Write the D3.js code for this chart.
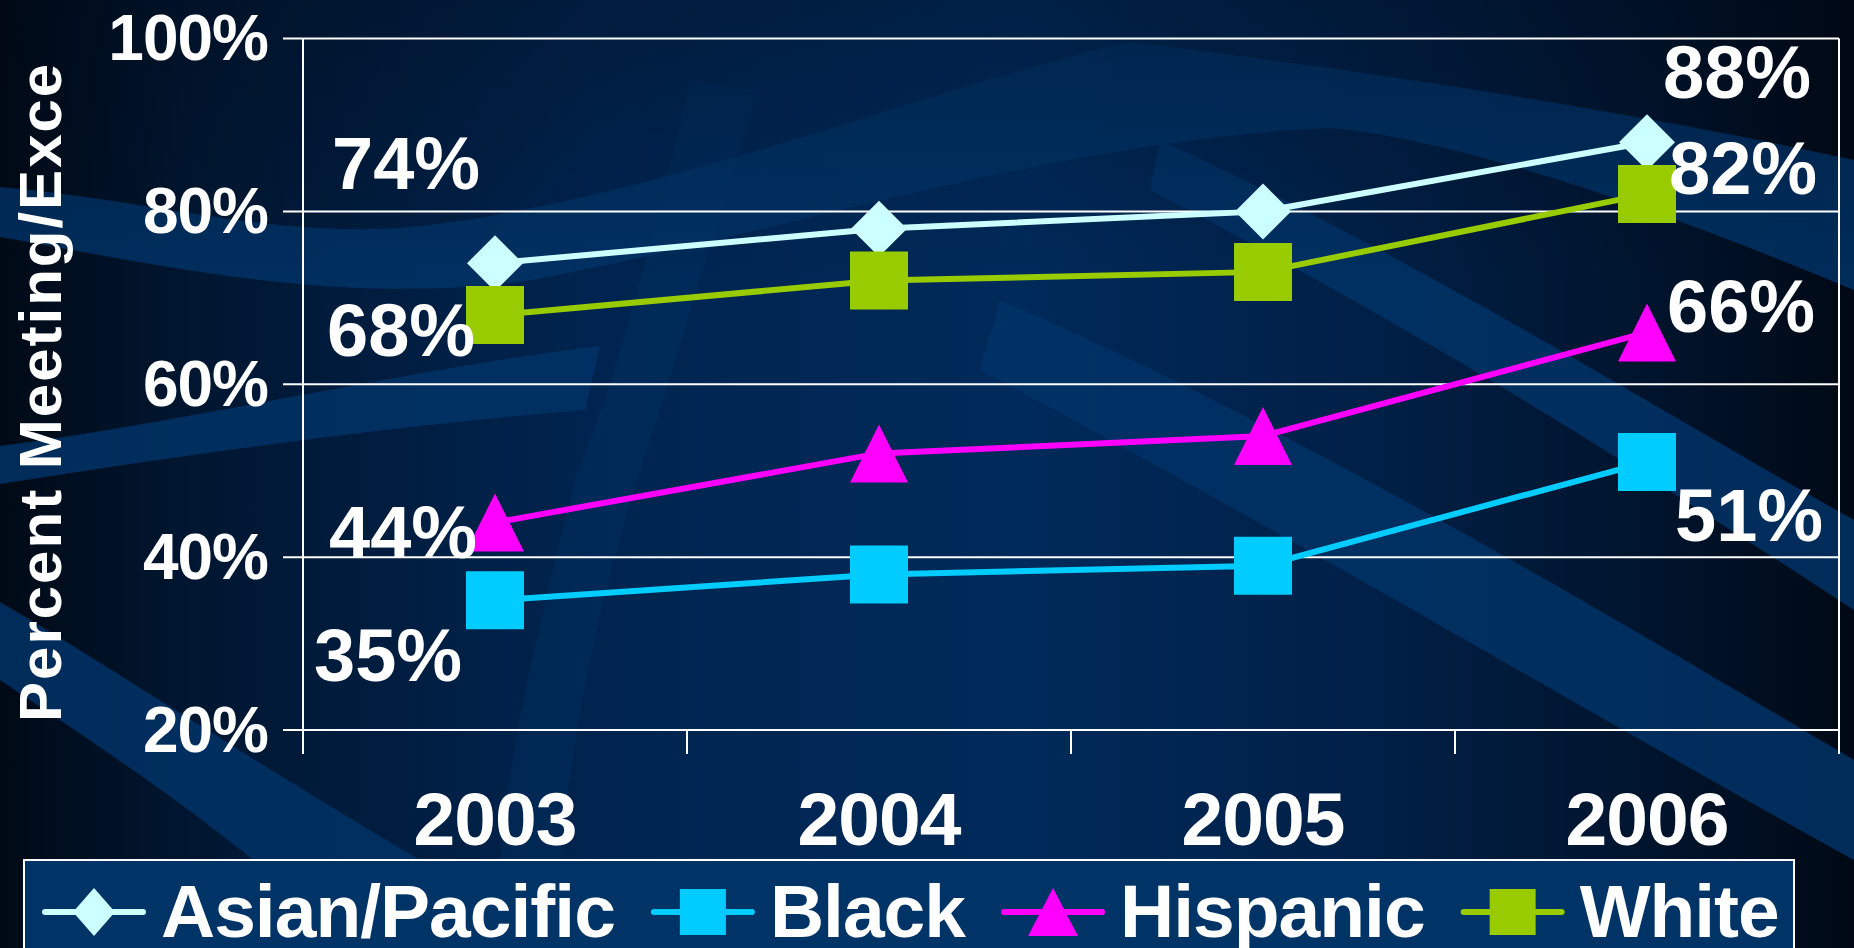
<!DOCTYPE html>
<html>
<head>
<meta charset="utf-8">
<script src="https://cdn.jsdelivr.net/npm/d3@7"></script>
<style>
  html, body { margin: 0; padding: 0; background: #001326; overflow: hidden; }
  text { font-family: "Liberation Sans", Arial, sans-serif; font-weight: bold; fill: #fff; }
</style>
</head>
<body>
<div id="chart"></div>
<script>
// Data
var years = ["2003", "2004", "2005", "2006"];
var asianPacific = [74, 78, 80, 88];
var black = [35, 38, 39, 51];
var hispanic = [44, 52, 54, 66];
var white = [68, 72, 73, 82];
var yTicks = [20, 40, 60, 80, 100];
var seriesNames = ["Asian/Pacific", "Black", "Hispanic", "White"];

// Setup
var W = 1854, H = 948;
var plot = { left: 303, right: 1839, top: 38.5, bottom: 730 };
var series = [
    { name: seriesNames[0], values: asianPacific, color: "#ccffff", shape: "diamond" },
    { name: seriesNames[1], values: black, color: "#00ccff", shape: "square" },
    { name: seriesNames[2], values: hispanic, color: "#ff00ff", shape: "triangle" },
    { name: seriesNames[3], values: white, color: "#99cc00", shape: "square" }
];
// where the first / last value labels sit, relative to the point (dx to text left, dy to baseline)
var labelPos = [
    { first: [-163, -74], last: [16, -44] },
    { first: [-181, 81], last: [28, 79] },
    { first: [-166, 35], last: [20, 0] },
    { first: [-168, 41], last: [22, 0] }
];

var x = d3.scaleBand().domain(years).range([plot.left, plot.right]).padding(0);
var y = d3.scaleLinear().domain([20, 100]).range([plot.bottom, plot.top]);
var cx = function (d) { return x(d) + x.bandwidth() / 2; };

var svg = d3.select("#chart").append("svg")
    .attr("width", W)
    .attr("height", H);

// Background
var defs = svg.append("defs");
var bg = defs.append("linearGradient").attr("id", "bg");
[["0%", "#000a16"], ["10%", "#001630"], ["32%", "#00244f"], ["55%", "#002a5a"], ["75%", "#001f45"], ["90%", "#00132b"], ["100%", "#000915"]]
    .forEach(s => bg.append("stop").attr("offset", s[0]).attr("stop-color", s[1]));
var shade = defs.append("linearGradient").attr("id", "shade").attr("x1", 0).attr("y1", 0).attr("x2", 0).attr("y2", 1);
shade.append("stop").attr("offset", "0%").attr("stop-color", "#000814").attr("stop-opacity", 0.3);
shade.append("stop").attr("offset", "30%").attr("stop-color", "#000814").attr("stop-opacity", 0);
defs.append("clipPath").attr("id", "titleClip")
    .append("rect").attr("x", 0).attr("y", 61).attr("width", 200).attr("height", 800);

svg.append("rect").attr("width", W).attr("height", H).attr("fill", "url(#bg)");

// light swooshes of the slide template
var bands = [
    "M0,187 C150,200 260,236 400,228 C650,205 950,80 1130,42 C1400,75 1650,115 1854,160 L1854,290 C1650,205 1460,140 1330,128 C1050,140 760,240 520,282 C330,305 160,265 0,237 Z",
    "M0,446 C200,420 400,370 600,346 L585,410 C400,425 200,452 0,484 Z",
    "M0,602 C100,660 250,760 420,860 L253,860 C180,800 90,740 0,680 Z",
    "M1160,140 C1420,260 1640,400 1854,520 L1854,610 C1640,470 1420,330 1150,190 Z",
    "M1000,300 C1300,430 1600,610 1854,760 L1854,860 C1600,720 1300,540 980,370 Z",
    "M690,80 C640,300 600,420 578,470 C540,620 510,740 500,860 L560,860 C575,700 610,560 650,440 C690,320 720,200 760,90 Z"
];
svg.append("g").selectAll("path").data(bands).join("path")
    .attr("d", d => d)
    .attr("fill", "#003366")
    .attr("fill-opacity", (d, i) => i === 5 ? 0.35 : 0.85);
svg.append("rect").attr("width", W).attr("height", H).attr("fill", "url(#shade)");

// Grid and axes
var grid = svg.append("g");
grid.selectAll("line.h").data(yTicks).join("line")
    .attr("x1", plot.left - 20).attr("x2", plot.right)
    .attr("y1", d => y(d)).attr("y2", d => y(d))
    .attr("stroke", "#fff").attr("stroke-width", 2);
grid.append("line")
    .attr("x1", plot.left).attr("x2", plot.left)
    .attr("y1", plot.top).attr("y2", plot.bottom + 24)
    .attr("stroke", "#fff").attr("stroke-width", 2);
var boundaries = years.map(d => x(d)).concat([plot.right]);
grid.selectAll("line.v").data(boundaries.slice(1)).join("line")
    .attr("x1", d => d).attr("x2", d => d)
    .attr("y1", (d, i) => i === boundaries.length - 2 ? plot.top : plot.bottom)
    .attr("y2", plot.bottom + 24)
    .attr("stroke", "#fff").attr("stroke-width", 2);

svg.append("g").selectAll("text").data(yTicks).join("text")
    .attr("x", 268)
    .attr("y", d => y(d) + 21.5)
    .attr("text-anchor", "end")
    .style("font-size", "64px")
    .style("letter-spacing", "-1px")
    .text(d => d + "%");

svg.append("g").selectAll("text").data(years).join("text")
    .attr("x", d => cx(d))
    .attr("y", 845)
    .attr("text-anchor", "middle")
    .style("font-size", "75px")
    .style("letter-spacing", "-1px")
    .text(d => d);

svg.append("g").attr("clip-path", "url(#titleClip)")
    .append("text")
    .attr("transform", "translate(61,722) rotate(-90)")
    .style("font-size", "60px")
    .style("letter-spacing", "2px")
    .text("Percent Meeting/Exce");

// Markers
function markerPath(shape, r) {
    if (shape === "diamond") return `M0,${-r}L${r},0L0,${r}L${-r},0Z`;
    if (shape === "triangle") return `M0,${-r}L${r},${r}L${-r},${r}Z`;
    return `M${-r},${-r}H${r}V${r}H${-r}Z`;
}
var markerSize = { diamond: 28, square: 29, triangle: 29 };

var line = d3.line().x((d, i) => cx(years[i])).y(d => y(d));
var lines = svg.append("g");
series.forEach(function (s) {
    var g = lines.append("g");
    g.append("path")
        .attr("d", line(s.values))
        .attr("fill", "none")
        .attr("stroke", s.color)
        .attr("stroke-width", 6);
    g.selectAll("path.m").data(s.values).join("path")
        .attr("class", "m")
        .attr("transform", (d, i) => `translate(${cx(years[i])},${y(d)})`)
        .attr("d", markerPath(s.shape, markerSize[s.shape]))
        .attr("fill", s.color);
});

// Value labels on first and last year
var labels = svg.append("g");
series.forEach(function (s, k) {
    var last = s.values.length - 1;
    [[0, labelPos[k].first], [last, labelPos[k].last]].forEach(function (p) {
        labels.append("text")
            .attr("x", cx(years[p[0]]) + p[1][0])
            .attr("y", y(s.values[p[0]]) + p[1][1])
            .style("font-size", "74px")
            .text(s.values[p[0]] + "%");
    });
});

// Legend
var legend = svg.append("g");
legend.append("rect")
    .attr("x", 24).attr("y", 860)
    .attr("width", 1770).attr("height", 120)
    .attr("fill", "#003366")
    .attr("stroke", "#fff").attr("stroke-width", 2);
var lx = 45, ly = 912;
var legendMarker = { diamond: [21, 24], square: [23, 23], triangle: [25, 24] };
series.forEach(function (s) {
    var item = legend.append("g").attr("transform", `translate(${lx},0)`);
    item.append("line")
        .attr("x1", 0).attr("x2", 98).attr("y1", ly).attr("y2", ly)
        .attr("stroke", s.color).attr("stroke-width", 6).attr("stroke-linecap", "round");
    var m = legendMarker[s.shape];
    item.append("path")
        .attr("transform", `translate(49,${ly}) scale(${m[0] / 10},${m[1] / 10})`)
        .attr("d", markerPath(s.shape, 10))
        .attr("fill", s.color);
    var t = item.append("text")
        .attr("x", 116).attr("y", 937)
        .style("font-size", "75px")
        .style("letter-spacing", "-1px")
        .text(s.name);
    lx += 116 + t.node().getComputedTextLength() + 39;
});
</script>
</body>
</html>
